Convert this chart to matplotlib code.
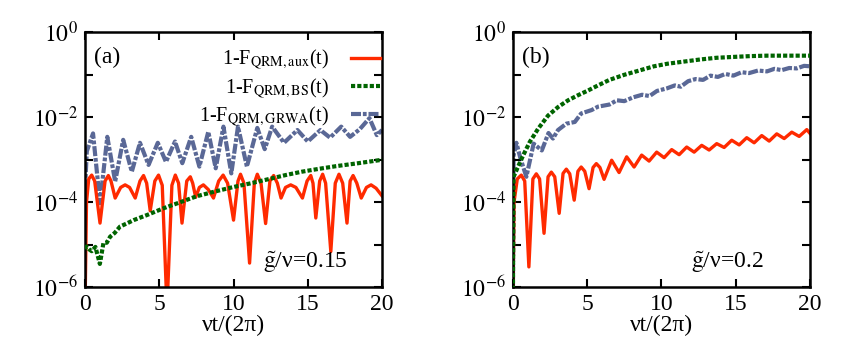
import numpy as np
import matplotlib
matplotlib.use('Agg')
import matplotlib.pyplot as plt

# ---- panel (a): g/nu = 0.15, values stored as log10(1-F) ----
t_aux_a = [0.0, 0.1, 0.25, 0.45, 0.65, 1.01, 1.35, 1.57, 1.75, 2.03, 2.4, 2.7, 3.0, 3.38,
           3.7, 3.94, 4.15, 4.39, 4.7, 4.95, 5.2, 5.52, 5.85, 6.08, 6.3, 6.53, 6.85, 7.09,
           7.25, 7.45, 7.7, 7.97, 8.3, 8.65, 9.0, 9.3, 9.6, 10.0, 10.3, 10.47, 10.7, 11.08,
           11.4, 11.6, 11.85, 12.16, 12.45, 12.7, 12.95, 13.2, 13.5, 13.85, 14.2, 14.64,
           14.95, 15.2, 15.35, 15.54, 15.8, 16.0, 16.2, 16.55, 16.85, 17.1, 17.35, 17.64,
           17.85, 18.05, 18.3, 18.6, 18.95, 19.26, 19.6, 20.0]
aux_a = [-6.5, -4.0, -3.45, -3.36, -3.5, -4.49, -3.5, -3.37, -3.5, -3.9, -3.65, -3.59, -3.65, -3.9,
         -3.5, -3.37, -3.55, -4.2, -3.5, -3.36, -3.6, -6.5, -3.6, -3.36, -3.55, -4.49, -3.5, -3.4,
         -3.55, -3.88, -3.65, -3.59, -3.7, -3.9, -3.5, -3.36, -3.55, -4.42, -3.5, -3.34, -3.55, -5.43,
         -3.55, -3.34, -3.55, -4.5, -3.5, -3.37, -3.55, -3.9, -3.65, -3.59, -3.65, -3.9,
         -3.5, -3.37, -3.55, -4.37, -3.5, -3.34, -3.55, -5.16, -3.55, -3.34, -3.55, -4.49,
         -3.5, -3.37, -3.55, -3.9, -3.65, -3.59, -3.67, -3.85]

t_bs_a = [0.0, 0.1, 0.25, 0.45, 0.7, 1.0, 1.24, 1.47, 1.69, 2.0, 2.36, 2.8, 3.27, 4.17,
          5.29, 6.4, 7.5, 8.7, 10.0, 11.2, 12.3, 13.5, 14.6, 15.8, 16.9, 18.4, 20.0]
bs_a = [-5.1, -5.04, -5.1, -5.15, -5.05, -5.45, -4.96, -4.95, -4.81, -4.72, -4.57, -4.5, -4.42, -4.3,
        -4.14, -4.0, -3.86, -3.75, -3.64, -3.55, -3.46, -3.36, -3.28, -3.21, -3.15, -3.08, -3.0]

t_grwa_a = [0.0, 0.12, 0.54, 1.01, 1.5, 2.03, 2.57, 3.15, 3.7, 4.28, 4.9, 5.45, 6.06, 6.55,
            7.15, 7.7, 8.3, 8.8, 9.32, 9.85, 10.3, 10.9, 11.6, 12.1, 12.6, 13.4, 14.3,
            15.0, 15.85, 16.5, 17.25, 17.85, 18.5, 19.15, 19.65, 20.0]
grwa_a = [-3.7, -2.8, -2.38, -4.02, -2.46, -3.51, -2.53, -3.28, -2.6, -3.12, -2.6, -3.05, -2.57, -3.08,
          -2.46, -3.16, -2.34, -3.2, -2.22, -3.32, -2.22, -3.16, -2.25, -2.75, -2.22, -2.6, -2.3,
          -2.57, -2.3, -2.48, -2.22, -2.46, -2.28, -2.02, -2.42, -2.3]

# ---- panel (b): g/nu = 0.2 ----
t_aux_b = [0.0, 0.08, 0.3, 0.57, 0.8, 1.08, 1.35, 1.58, 1.8, 2.1, 2.37, 2.59, 2.82, 3.12, 3.38,
           3.6, 3.83, 4.13, 4.38, 4.6, 4.84, 5.13, 5.4, 5.62, 5.86, 6.14, 6.65, 7.15, 7.66,
           8.16, 8.67, 9.17, 9.68, 10.18, 10.69, 11.19, 11.7, 12.2, 12.71, 13.21, 13.72, 14.22,
           14.73, 15.23, 15.74, 16.24, 16.75, 17.25, 17.76, 18.26, 18.77, 19.27, 19.78, 20.0]
aux_b = [-6.5, -4.0, -3.45, -3.36, -3.5, -5.52, -3.45, -3.33, -3.45, -4.73, -3.4, -3.29, -3.4, -4.26, -3.32,
         -3.22, -3.33, -3.95, -3.27, -3.17, -3.27, -3.68, -3.18, -3.09, -3.18, -3.46, -3.01, -3.3, -2.93,
         -3.17, -2.89, -3.03, -2.82, -2.95, -2.76, -2.88, -2.7, -2.82, -2.66, -2.77, -2.62, -2.71,
         -2.54, -2.65, -2.48, -2.6, -2.43, -2.56, -2.39, -2.5, -2.35, -2.45, -2.29, -2.38]

t_bs_b = [0.0, 0.05, 0.24, 0.69, 1.14, 1.7, 2.37, 3.04, 3.72, 4.39, 5.06, 5.73, 6.5, 7.5,
          8.5, 9.5, 10.4, 11.5, 12.6, 13.7, 14.8, 16.0, 17.1, 18.5, 19.8, 20.0]
bs_b = [-6.5, -3.4, -3.25, -2.9, -2.58, -2.27, -1.96, -1.76, -1.6, -1.48, -1.37, -1.25, -1.12, -1.0,
        -0.9, -0.8, -0.74, -0.69, -0.64, -0.6, -0.58, -0.56, -0.55, -0.55, -0.55, -0.55]

t_grwa_b = [0.0, 0.05, 0.24, 0.5, 0.91, 1.4, 1.95, 2.4, 2.7, 3.04, 3.6, 4.17, 4.6, 5.3, 5.73,
            6.5, 7.0, 7.5, 8.1, 8.7, 9.2, 9.7, 10.36, 10.9, 11.3, 11.8, 12.3, 12.8, 13.3,
            13.8, 14.3, 14.84, 15.4, 15.9, 16.5, 17.1, 17.6, 18.1, 18.6, 19.1, 19.6, 20.0]
grwa_b = [-6.5, -2.9, -2.6, -2.95, -3.4, -2.62, -2.78, -2.37, -2.5, -2.3, -2.15, -2.11, -1.91, -1.83, -1.75,
          -1.7, -1.6, -1.62, -1.53, -1.47, -1.5, -1.38, -1.32, -1.25, -1.28, -1.15, -1.1, -1.12, -1.02,
          -1.05, -0.98, -1.02, -0.94, -0.96, -0.9, -0.92, -0.86, -0.89, -0.84, -0.85, -0.79, -0.8]

labels = [r'1-F$_{\rm QRM,aux}$(t)', r'1-F$_{\rm QRM,BS}$(t)', r'1-F$_{\rm QRM,GRWA}$(t)']
red = '#ff2a00'
green = '#006400'
blue = '#5a6896'

plt.rcParams['font.family'] = ['Liberation Serif', 'DejaVu Serif']
plt.rcParams['mathtext.fontset'] = 'stix'

fig = plt.figure(figsize=(8.57, 3.58), dpi=100)
ax_a = fig.add_axes([0.0992, 0.1975, 0.3466, 0.7123])
ax_b = fig.add_axes([0.5984, 0.1975, 0.3468, 0.7123])


def draw_panel(ax, t_aux, aux, t_bs, bs, t_grwa, grwa):
    ax.plot(t_grwa, 10 ** np.array(grwa), color=blue, lw=3.0,
            linestyle=(0, (2.4, 0.45, 0.9, 0.45)), zorder=1)
    ax.plot(t_aux, 10 ** np.array(aux), color=red, lw=2.4, zorder=2)
    ax.plot(t_bs, 10 ** np.array(bs), color=green, lw=3.0,
            linestyle=(0, (1.0, 0.5)), zorder=3)
    ax.set_yscale('log')
    ax.set_xlim(0, 20)
    ax.set_ylim(1e-6, 1)
    ax.set_xticks([0, 5, 10, 15, 20])
    ax.set_yticks([1e-6, 1e-5, 1e-4, 1e-3, 1e-2, 1e-1, 1])
    ax.set_yticklabels([r'$10^{-6}$', '', r'$10^{-4}$', '', r'$10^{-2}$', '', r'$10^{0}$'])
    ax.minorticks_off()
    ax.tick_params(direction='in', top=True, right=True, length=6, width=1.5,
                   labelsize=17, pad=5)
    for sp in ax.spines.values():
        sp.set_linewidth(1.8)
    ax.set_xlabel('νt/(2π)', fontsize=17, labelpad=0)


draw_panel(ax_a, t_aux_a, aux_a, t_bs_a, bs_a, t_grwa_a, grwa_a)
draw_panel(ax_b, t_aux_b, aux_b, t_bs_b, bs_b, t_grwa_b, grwa_b)

# legend sits in panel (a), sample line after the text
handles = [ax_a.lines[1], ax_a.lines[2], ax_a.lines[0]]
ax_a.legend(handles, labels, loc='upper right', bbox_to_anchor=(1.035, 0.985),
            markerfirst=False, frameon=False, fontsize=14.5, handlelength=1.45,
            handletextpad=1.1, labelspacing=0.2, borderaxespad=0.2)

ax_a.text(0.03, 0.9, '(a)', transform=ax_a.transAxes, fontsize=17, va='center')
ax_b.text(0.03, 0.9, '(b)', transform=ax_b.transAxes, fontsize=17, va='center')
ax_a.text(0.6, 0.1, r'$\tilde{\mathrm{g}}$/ν=0.15', transform=ax_a.transAxes,
          fontsize=17, va='center')
ax_b.text(0.6, 0.1, r'$\tilde{\mathrm{g}}$/ν=0.2', transform=ax_b.transAxes,
          fontsize=17, va='center')

fig.savefig('out.png', dpi=100)
plt.close(fig)
